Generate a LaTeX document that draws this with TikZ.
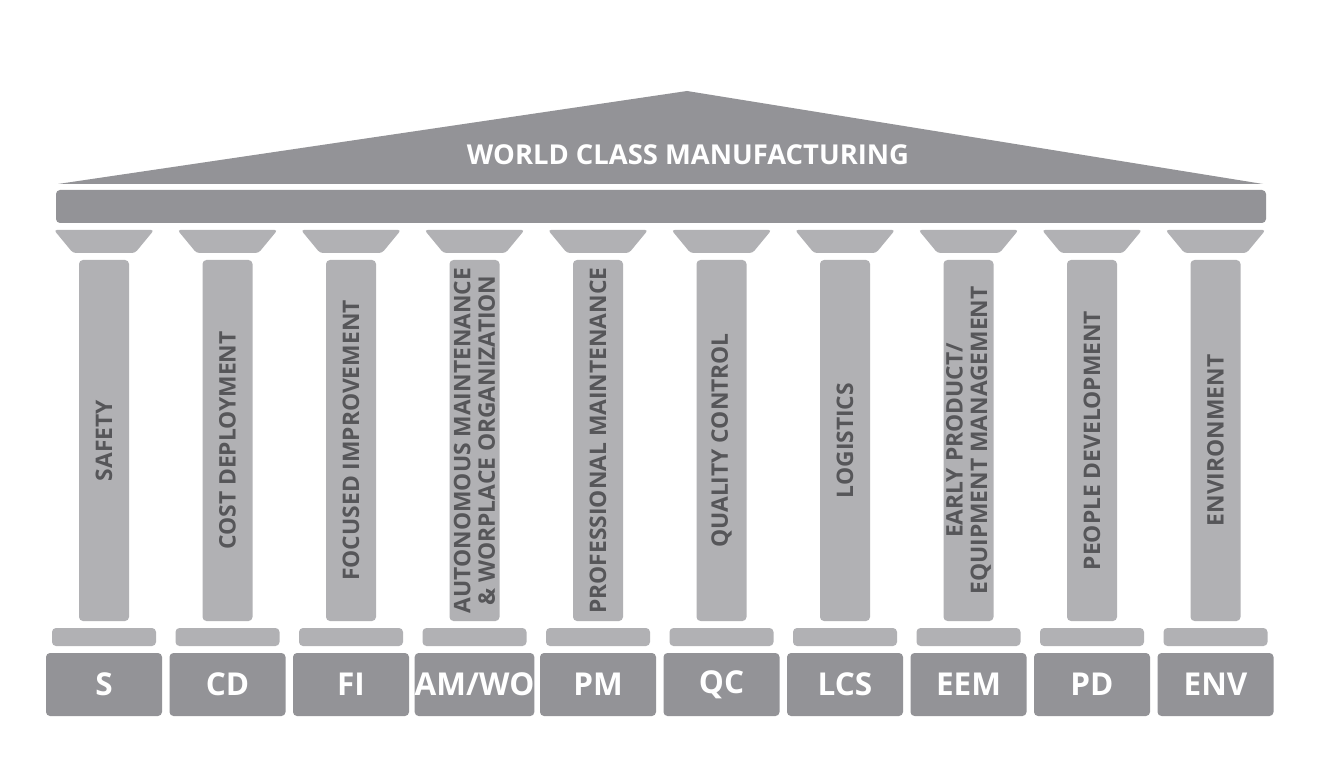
\documentclass[tikz,border=0pt]{standalone}
\usepackage{fontspec}
\setmainfont{Open Sans}
\definecolor{dk}{RGB}{147,147,151}
\definecolor{lt}{RGB}{177,177,180}
\definecolor{tx}{RGB}{86,86,89}
\begin{document}
\begin{tikzpicture}[x=1pt,y=-1pt,
  colbox/.style={fill=lt, rounded corners=4pt, minimum width=50pt, minimum height=361pt, inner sep=0pt, draw=none},
  basebox/.style={fill=lt, rounded corners=4pt, minimum width=104pt, minimum height=18pt, inner sep=0pt},
  abbox/.style={fill=dk, rounded corners=4pt, minimum width=116pt, minimum height=63pt, inner sep=0pt, text=white, font=\bfseries\fontsize{31.5}{36}\selectfont},
  coltext/.style={rotate=90, align=center, text=tx, font=\bfseries\fontsize{22.8}{24.5}\selectfont, inner sep=0pt},
  titletext/.style={text=white, font=\bfseries\fontsize{27.4}{32}\selectfont, inner sep=0pt}]
\useasboundingbox (0,0) rectangle (1330,783);
\fill[white] (0,0) rectangle (1330,783);
% roof
\fill[dk] (58,184) -- (687,91) -- (1263,184) -- cycle;
\node[titletext] (title) at (688,155) {WORLD CLASS MANUFACTURING};
% beam
\node[fill=dk, rounded corners=4pt, minimum width=1210pt, minimum height=33pt, inner sep=0pt] (beam) at (661,206.5) {};
% pillars
\foreach \i/\ab/\txt in {0/S/SAFETY, 1/CD/COST DEPLOYMENT, 2/FI/FOCUSED IMPROVEMENT,
  3/{AM/WO}/{AUTONOMOUS MAINTENANCE\\\& WORPLACE ORGANIZATION},
  4/PM/PROFESSIONAL MAINTENANCE, 5/QC/QUALITY CONTROL, 6/LCS/LOGISTICS,
  7/EEM/{EARLY PRODUCT/\\EQUIPMENT MANAGEMENT}, 8/PD/PEOPLE DEVELOPMENT, 9/ENV/ENVIRONMENT}{
  \pgfmathsetmacro{\c}{104+123.5*\i}
  \fill[lt, rounded corners=3pt] (\c-50,230) -- (\c+50,230) -- (\c+31,253) -- (\c-31,253) -- cycle;
  \node[colbox] (col\i) at (\c,440.5) {};
  \node[coltext] (lab\i) at (col\i.center) {\txt};
  \node[basebox] (base\i) at (\c,637) {};
  \node[abbox] (ab\i) at (\c,684.5) {\ab};
}
\end{tikzpicture}
\end{document}
